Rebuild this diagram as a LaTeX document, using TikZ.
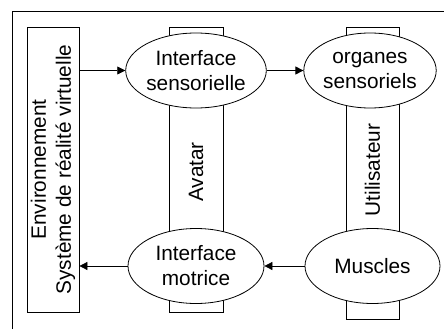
\documentclass[tikz,border=0pt]{standalone}
\usepackage{fontspec}
\setmainfont{Liberation Sans}
\usetikzlibrary{shapes.geometric,arrows.meta}

\tikzset{
  bloc/.style={draw, fill=white, inner sep=0pt, line width=0.8pt},
  ovale/.style={draw, ellipse, fill=white, inner sep=0pt, line width=0.8pt,
    minimum height=75pt, align=center},
  fleche/.style={-{Triangle[length=8pt,width=8pt]}, line width=0.8pt}
}

\begin{document}
\begin{tikzpicture}[x=1pt, y=-1pt, font=\fontsize{20.8}{25}\selectfont]

	\useasboundingbox (0,0) rectangle (444,329);
	\draw[line width=0.8pt] (12,329) -- (12,11) -- (444,11);

	% les trois blocs verticaux
	\node[bloc, minimum width=52pt, minimum height=285pt] (env) at (53,169.5) {};
	\node[bloc, minimum width=54pt, minimum height=285pt] (ava) at (196,169.5) {};
	\node[bloc, minimum width=53pt, minimum height=292pt] (uti) at (372.5,173) {};

	\node[rotate=90, align=center] (envtxt) at (53,169.5) {Environnement\\Système de réalité virtuelle};
	\node[rotate=90] (avatxt) at (196,172) {Avatar};
	\node[rotate=90] (utitxt) at (372.5,170) {Utilisateur};

	% les ellipses
	\node[ovale, minimum width=136pt] (IS) at (196,70.5) {Interface\\sensorielle};
	\node[ovale, minimum width=131pt] (OS) at (370,70.5) {organes\\sensoriels};
	\node[ovale, minimum width=136pt] (IM) at (196,266) {Interface\\motrice};
	\node[ovale, minimum width=135pt] (MU) at (372.5,266) {Muscles};

	\draw[fleche] (env.east |- IS) -- (IS);
	\draw[fleche] (IS) -- (OS);
	\draw[fleche] (MU) -- (IM);
	\draw[fleche] (IM) -- (env.east |- IM);

\end{tikzpicture}
\end{document}
